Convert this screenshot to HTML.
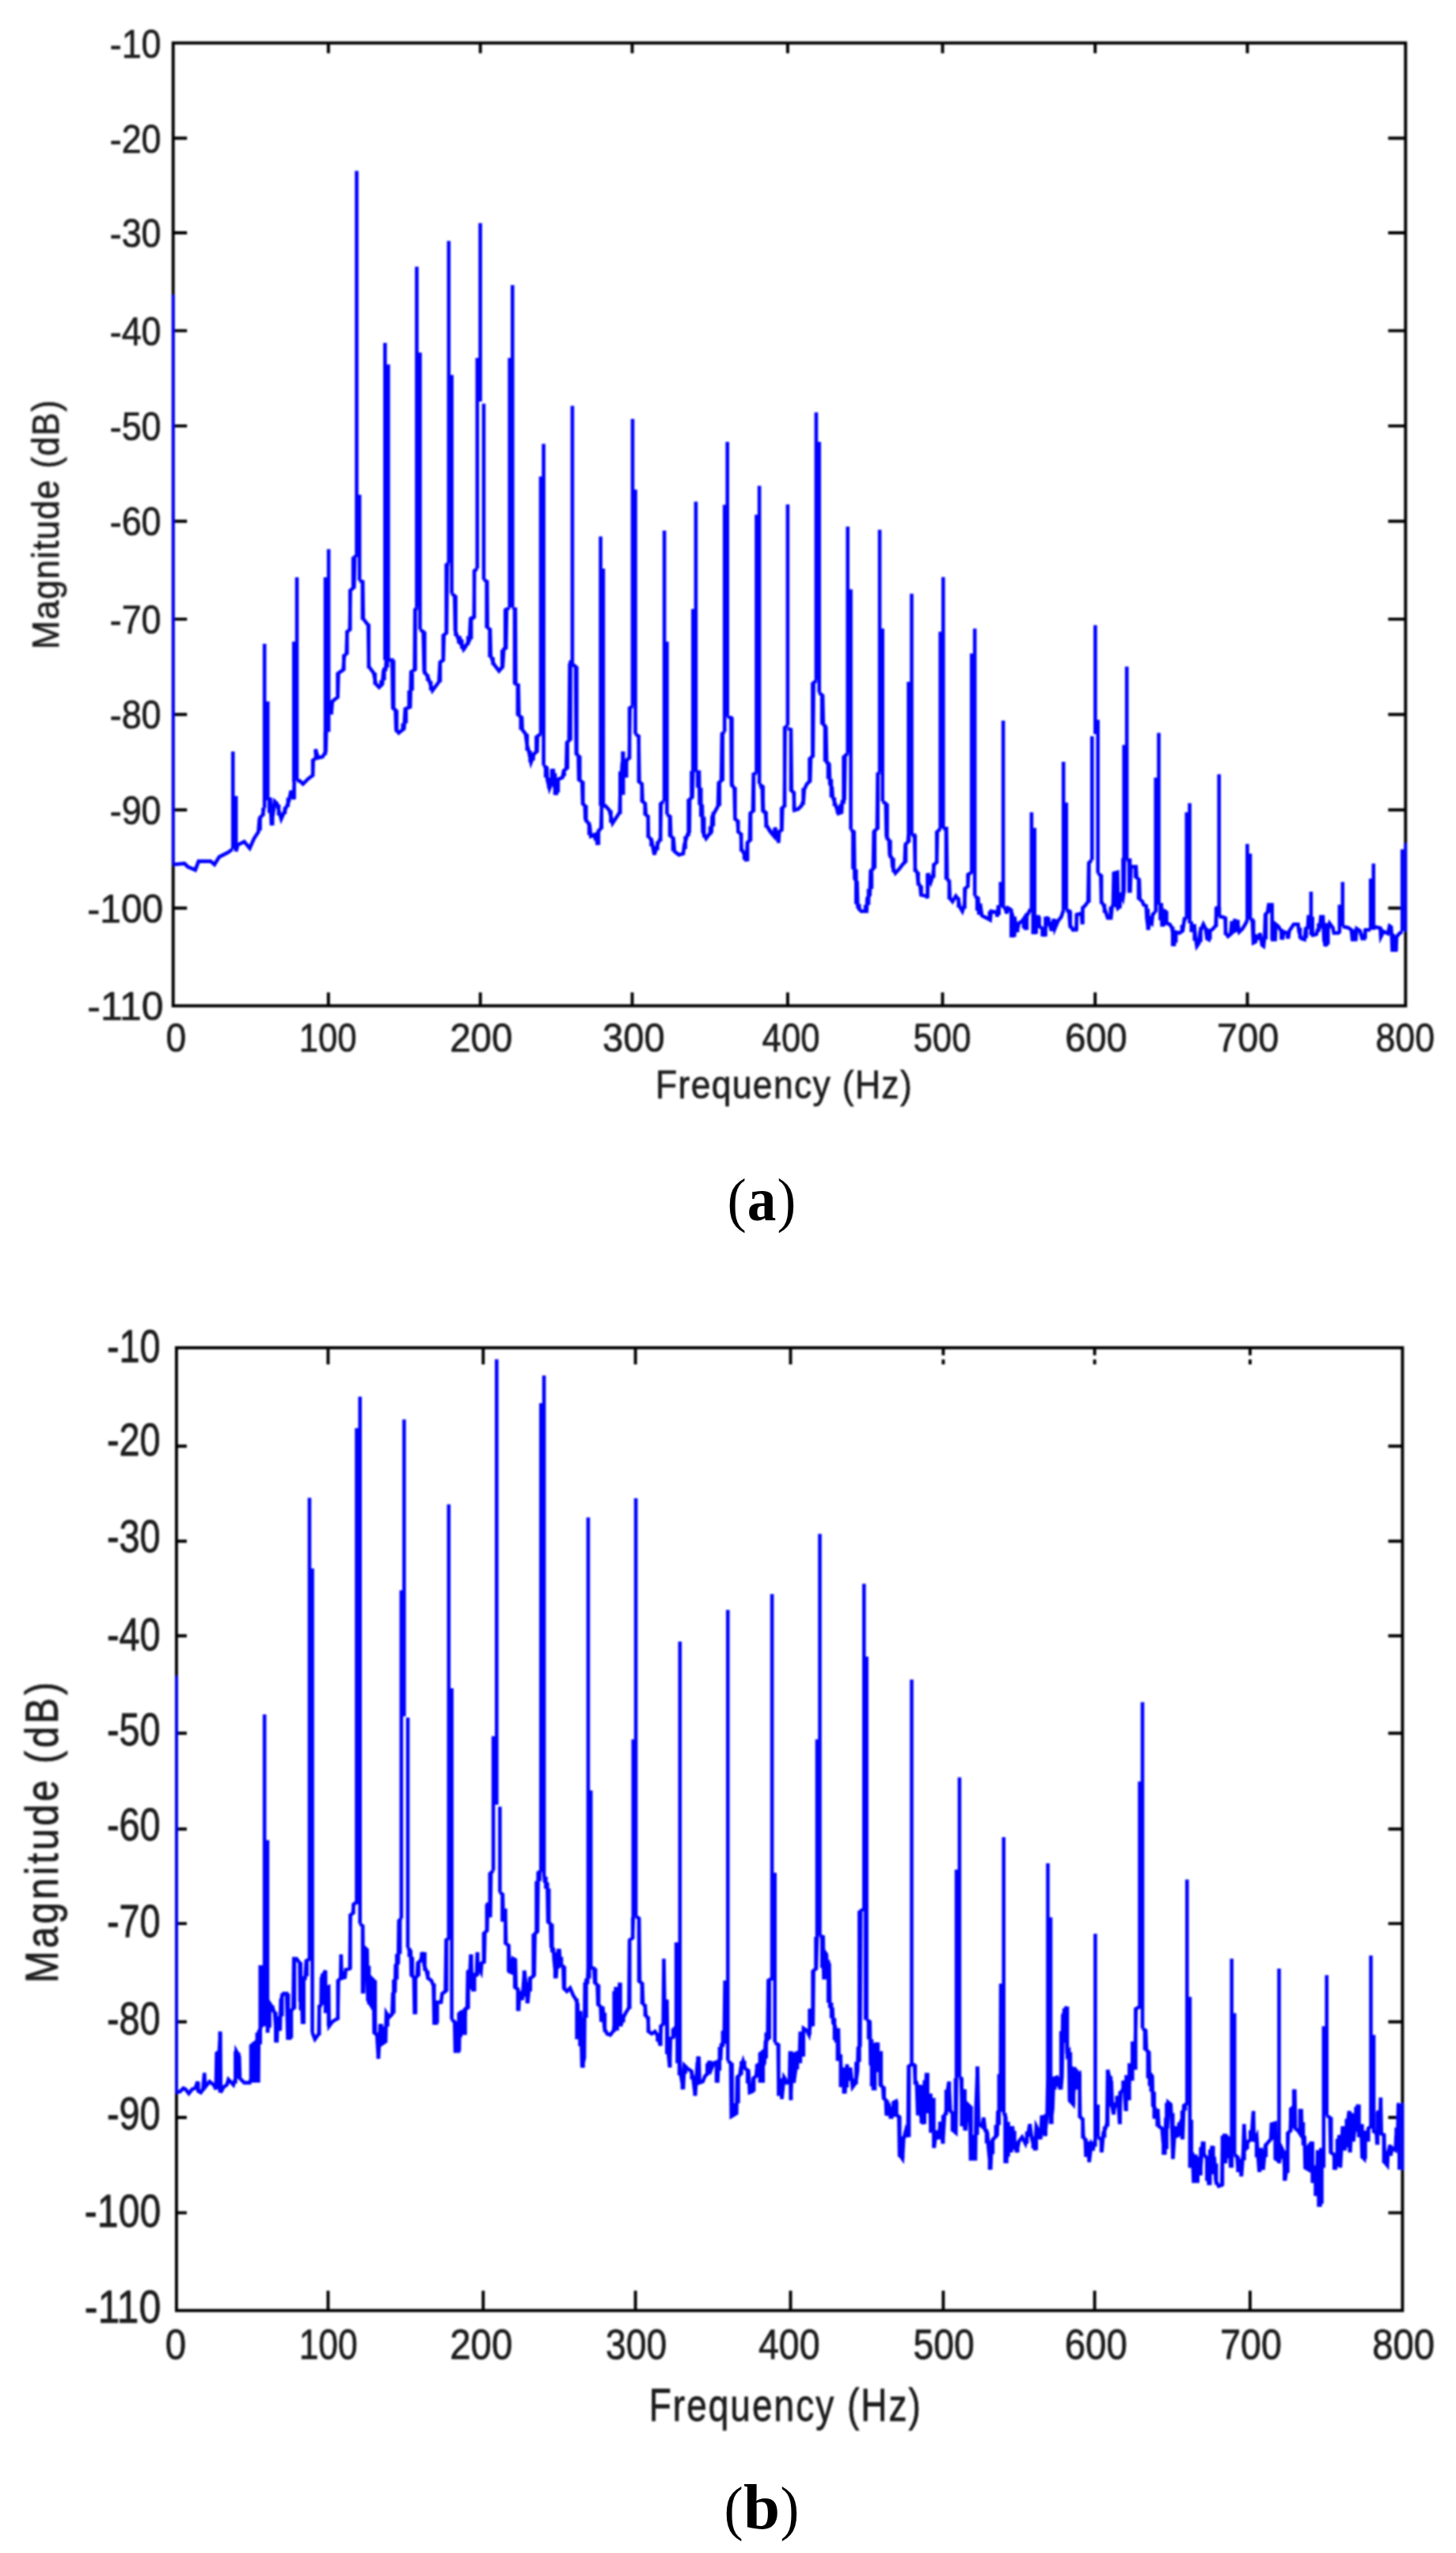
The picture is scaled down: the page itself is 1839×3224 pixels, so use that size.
<!DOCTYPE html>
<html lang="en"><head><meta charset="utf-8"><title>Frequency spectra</title>
<style>html,body{margin:0;padding:0;background:#fff}body{width:1839px;height:3224px;overflow:hidden}svg{display:block}.s{font-family:"Liberation Sans",Arial,Helvetica,sans-serif;fill:#1c1c1c;stroke:#1c1c1c;stroke-width:1.4px}.c{font-family:"Liberation Serif","Times New Roman",serif;fill:#000}.cb{font-weight:bold}.d{fill:none;stroke:#0000ff;stroke-linejoin:miter;stroke-linecap:butt}</style></head><body>
<svg width="1839" height="3224" viewBox="0 0 1839 3224">
<defs><filter id="b" x="-5%" y="-5%" width="110%" height="110%"><feGaussianBlur stdDeviation="1.05"/></filter><filter id="bt" x="-2%" y="-2%" width="104%" height="104%"><feGaussianBlur stdDeviation="0.8"/></filter></defs>
<rect width="1839" height="3224" fill="#fff"/>
<g filter="url(#b)">
<rect x="218.7" y="54.3" width="1556.6" height="1215.9" fill="none" stroke="#000" stroke-width="3.9"/>
<path d="M414.8 1270.2v-17M414.8 54.3v13M606.7 1270.2v-17M606.7 54.3v13M798.5 1270.2v-17M798.5 54.3v13M994.9 1270.2v-17M994.9 54.3v13M1190.5 1270.2v-17M1190.5 54.3v13M1383.2 1270.2v-17M1383.2 54.3v13M1575.5 1270.2v-17M1575.5 54.3v13M218.7 174.5h17.5M1775.3 174.5h-22M218.7 294h17.5M1775.3 294h-22M218.7 417.6h17.5M1775.3 417.6h-22M218.7 537.9h17.5M1775.3 537.9h-22M218.7 658.2h17.5M1775.3 658.2h-22M218.7 781.9h17.5M1775.3 781.9h-22M218.7 902.2h17.5M1775.3 902.2h-22M218.7 1022.8h17.5M1775.3 1022.8h-22M218.7 1146.7h17.5M1775.3 1146.7h-22" fill="none" stroke="#000" stroke-width="3.9"/>
<path class="d" stroke-width="4.6" d="M218.7 1091.8L233 1090.4L237.1 1094.5L246.7 1098.6L250.8 1087.6L265.9 1087.6L270.9 1091.8L276.9 1082.1L287.9 1076.6L293.4 1072.5M298.1 1075.3L300.3 1067L308.5 1062.9L315.4 1071.2L320.9 1058.8L326.4 1050.5L327.7 1034.1L331.9 1028.6L333.2 1020.3M338.2 1009.3L341.5 1009.3L342.9 1042.3L347 1012.1L349.7 1014.8L355.2 1034.1L364.8 1012.1L367.6 998.4L370.9 1009.3L371.7 987.4M375 986L378.6 986L382.7 990.1L389.6 983.2L395.1 979.1L395.6 959.9L399.2 957.1L398.4 946.2L401.9 957.1L407.4 955.8L411.5 948.9L412.1 924.2M418.4 902.2L419.8 885.7L426.6 880.2L427.5 850L433.5 845.9L434.9 828L437.6 825.3L438.5 797.8L441.8 795.1L442.6 745.6L447.3 741.5L448.1 703L450.5 701.6M454.1 733.2L458.2 734.6L458.8 781.3L465.1 789.6L465.9 841.8L472 850L474.7 863.7L478.8 867.9L483 863.7L484.3 847.3L487.1 845.9L487.9 833.5M490.4 833.5L495.3 833.5L496.2 894L499.5 896.7L500.3 921.4L503.6 925.5L510.4 920.1L511.8 895.3L518.1 892.6L519.2 848.6L523.6 845.9L524.2 770.3L526.9 767.6M530.5 795.1L534.6 797.8L535.7 847.3L540.7 855.5L546.2 872L554.4 861L555.8 836.3L559.9 833.5L560.7 801.9L564 799.2L564.8 712.6L566.8 711.3M570.6 749.7L574.2 752.5L575 796.4L580.5 811.5L586.8 818.4L592.9 808.8L594.2 782.7L600 778.6M580 803.3L585.5 819.8L591 811.5L593.7 806L594.3 781.3L598.7 778.6L599.2 720.9L602.8 718.1M611 731.9L615.2 734.6L615.7 792.3L619 795.1L619.8 828L624 839L630.3 847.3L634.9 841.8L636.3 819.8L639.1 818.4L639.9 769L643.7 767.6M647.3 768.1L650.9 769L651.4 863.7L654.7 865.1L655.5 903.6L659.1 906.3L659.7 921.4L663.8 926.9L665.7 940.7L667.9 948.9L670.7 962.6L674.8 951.6L678.4 948.9L678.9 929.7L683 926.9M686.6 966.8L690.7 969.5L691.3 984.6L694 995.6L698.1 984.6L698.7 970.9L699.8 990.1L702.8 1003.8L703.6 984.6L710.5 981.9L711.9 973.6L715.2 970.9L716 937.9L718.7 935.2L719.6 839L722.9 833.5M722.9 839L727 841.8L727.8 951.6L730.5 954.4L731.1 984.6L735.2 987.4L736 1014.8L738.8 1017.6L739.3 1034.1L744.8 1042.3L746.2 1056L753.1 1053.3L754.5 1067L755.8 1050.5L759.1 1045.1L759.9 1017.6M761.9 1017.6L764.6 1017.6L769.6 1023.1L773.7 1039.6L779.2 1031.3L782.7 1025.8L783.3 1003.8L786 962.6L786 1003.8L786.6 948.9L786.6 984.6L790.2 959.9L790.2 981.9L791.5 959.9L794.8 957.1L795.7 894L799 891.2M802.5 926.9L806.6 929.7L807.5 987.4L810.8 990.1L811.6 1012.1L814.9 1014.8L815.7 1028.6L818.5 1031.3L819 1056L823.1 1061.5L826.4 1079.4L831.4 1064.3L834.1 1058.8L834.9 1014.8L838.2 1012.1M842.4 1028.6L846.5 1031.3L847.3 1056L850.6 1058.8L852 1075.3L857.5 1079.4L863 1078L864.3 1067L868.5 1053.3L870.7 1050.5L871.2 1009.3L874.5 1006.6L875.3 973.6M878.9 975L883 975L883.6 1014.8L886.9 1017.6L887.7 1050.5L891.8 1058.8L895.9 1053.3L898.7 1050.5L899.5 1031.3L905.5 1020.3L906.9 1017.6L907.7 988.7L911 986L911.9 926.9L915.2 924.2M918.7 904.9L923.4 906.3L924 990.1L927.5 995.6L928.4 1034.1L931.6 1036.8L932.5 1050.5L935.8 1053.3L936.6 1072.5L939.9 1078L942.6 1087.6L944 1064.3L946.8 1061.5L947.6 1027.2L950.9 1024.5L951.7 977.7L955.5 976.4M959.1 990.1L962.7 992.9L963.5 1023.1L966.8 1025.8L967.9 1042.3L972.9 1050.5L980 1058.8M960 992.9L963.3 995.6L964.1 1024.5L967.4 1027.2L968.2 1042.3L973.7 1050.5L977.9 1056L978.7 1045.1L980.6 1050.5L983.4 1064.3L984.2 1050.5L987.5 1047.8L988.3 1020.3L990.8 1017.6L991.6 918.7L994.9 915.9M994.9 920.1L999 921.4L999.8 998.4L1002.6 1001.1L1003.4 1023.1L1008.1 1021.7L1012.2 1017.6L1014.9 1010.7L1015.8 997L1019.1 990.1L1023.2 986L1024 957.1L1026.8 954.4L1027.6 862.4L1030.9 859.6M1034.7 874.7L1039.1 878.8L1039.9 914.6L1043.2 918.7L1044.1 962.6L1047.4 965.4L1048.2 990.1L1050.9 994.2L1051.8 1006.6L1054.8 1014.8L1058.9 1027.2L1063 1025.8L1063.8 1012.1L1066.6 1009.3L1067.4 954.4L1070.7 951.6M1074.6 1047.8L1078.7 1050.5L1079.5 1109.6L1082.5 1113.7L1083.4 1145.3L1087.7 1150.8L1094.6 1150.8L1095.4 1134.3L1098.7 1130.2L1099.6 1100L1102.9 1097.3L1103.7 1050.5L1107.8 1046.4L1108.6 977.7L1111.1 975M1114.7 1012.1L1118.8 1014.8L1119.6 1056L1122.9 1061.5L1123.7 1079.4L1126.5 1083.5L1127.3 1094.5L1130.9 1102.7L1135.8 1097.3L1139.9 1091.8L1142.7 1089L1143.5 1067L1146.8 1062.9L1147.6 1053.3M1151.5 1054.7L1155.1 1054.7L1155.9 1097.3L1158.6 1102.7L1159.5 1113.7L1162.2 1119.2L1163.3 1130.2L1170.2 1131.6L1171.5 1134.3L1172.1 1102.7L1175.7 1113.7L1178.4 1105.5L1179.8 1091.8L1183.1 1089L1183.9 1050.5L1187.7 1046.4M1191.3 1046.4L1195.4 1046.4L1196.3 1109.6L1199 1113.7L1199.8 1134.3L1203.1 1138.5L1207.3 1131.6L1210.5 1135.7L1212.2 1145.3L1215.5 1150.8L1218.2 1142.6L1219.1 1122L1222.4 1119.2L1223.2 1104.1L1227.3 1101.4M1231.2 1131.6L1235.5 1134.3L1236.4 1154.9L1238 1141.2L1240.2 1156.3L1245.7 1159.1L1250.7 1161.8L1251.8 1150.8L1258.9 1152.2L1259.5 1157.7L1260.8 1145.3L1263.8 1145.3M1267.1 1146.7L1269.9 1146.7L1271.3 1153.6L1273.2 1146.7L1275.9 1148.1L1278.7 1154.9L1279.2 1183.8L1281.4 1157.7L1284.2 1176.9L1286.9 1165.9L1291 1163.2L1293.8 1159.1L1295.2 1174.2L1296.5 1157.7L1300.7 1149.5L1302.9 1149.5M1306.7 1179.7L1308.9 1157.7L1311.6 1157.7L1313 1170.1L1317.1 1172.8L1318.5 1182.4L1320.4 1174.2L1322.1 1157.7L1325.4 1165.9L1328.1 1175.5L1330.9 1160.4L1332.3 1172.8L1336.4 1163.2L1340.5 1157.7L1343.2 1149.5M1346.8 1149.5L1350.1 1150.8L1351.5 1168.7L1355.6 1174.2L1360 1172.8M1346.9 1149.5L1351 1150.8L1351.8 1168.7L1355.1 1174.2L1359.2 1174.2L1360.1 1154.9L1366.1 1153.6L1366.9 1167.3L1367.5 1146.7L1370.2 1144L1374.3 1138.5L1375.2 1090.4L1378.5 1086.3M1386.7 1102.7L1390.3 1105.5L1391.1 1138.5L1393.6 1142.6L1396.3 1150.8L1399.1 1159.1L1403.2 1159.1L1404.6 1145.3L1405.9 1142.6L1406.8 1102.7L1411.4 1101.4L1412.3 1146.7L1414.2 1145.3L1415.5 1127.5L1418.3 1134.3L1419.7 1124.7L1420.2 1083.5M1423.2 1086.3L1427.1 1086.3L1427.4 1127.5L1428.5 1094.5L1434.8 1094.5L1435.6 1108.2L1438.9 1111L1439.7 1135.7L1443 1138.5L1444.4 1142.6L1447.7 1144L1448.5 1159.1L1450.4 1174.2L1452.1 1163.2L1454.8 1165.9L1455.9 1154.9L1458.7 1152.2L1459.8 1152.2M1463.6 1142.6L1466.9 1142.6L1467.7 1170.1L1469.1 1149.5L1471.9 1150.8L1473.2 1165.9L1477.4 1167.3L1480.1 1171.4L1481.5 1179.7L1482.9 1194.8L1484.2 1176.9L1489.7 1178.3L1493.8 1175.5L1496 1160.4L1498.8 1160.4M1502.6 1165.9L1504.8 1165.9L1505.7 1176.9L1508.4 1167.3L1509.8 1182.4L1511.7 1194.8L1514.5 1190.7L1515.8 1176.9L1519.9 1167.3L1522.7 1172.8L1524.6 1185.2L1526.8 1186.5L1528.2 1175.5L1532.3 1172.8L1535.6 1168.7L1536.4 1146.7L1539.7 1145.3M1539.7 1157.7L1543.3 1157.7L1547.4 1159.1L1548.2 1178.3L1551 1182.4L1554.3 1179.7L1555.7 1165.9L1555.7 1179.7L1557.6 1163.2L1557.6 1178.3L1559.8 1160.4L1559.8 1176.9L1562.5 1161.8L1565.3 1176.9L1569.4 1172.8L1573.5 1165.9L1575.4 1161.8M1579 1161.8L1581.8 1161.8L1583.1 1190.7L1585.9 1189.3L1587.3 1182.4L1590.5 1183.8L1591.4 1178.3L1594.1 1193.4L1596 1194.8L1597.4 1181L1598.2 1154.9L1601 1152.2L1602.4 1142.6L1606.5 1142.6L1607.3 1186.5L1610.6 1186.5L1611.4 1167.3L1614.7 1170.1L1618 1175.5L1619.7 1186.5L1621.6 1176.9L1625.7 1178.3L1627.1 1185.2L1628.5 1175.5L1631.2 1171.4L1634 1167.3L1639.5 1167.3L1640.8 1176.9L1643.6 1185.2L1647.7 1186.5L1649.1 1172.8L1651.8 1171.4L1652.6 1157.7L1655.9 1157.7M1655.9 1181L1658.7 1181L1662.8 1179.7L1664.2 1174.2L1666.9 1171.4L1668.3 1157.7L1671 1157.7L1672.4 1187.9L1675.2 1194.8L1676.5 1176.9L1679.3 1165.9L1683.4 1171.4L1684.8 1178.3L1690.3 1178.3L1691.9 1176.9M1695.8 1170.1L1702.6 1171.4L1706.8 1174.2L1708.1 1186.5L1712.3 1186.5L1713.6 1172.8L1717.7 1175.5L1720.5 1185.2L1723.2 1185.2L1724.6 1174.2L1731.2 1174.2M1735.2 1172.1L1737.9 1170.8L1743.4 1172.1L1744.1 1183.1L1747.5 1176.3L1753 1179L1755.1 1169.4L1757.1 1170.8L1757.8 1181.8L1758.5 1199.6L1763.3 1199.6L1764 1183.1L1767.4 1179L1771.1 1176.3M328.5 1030.5V1048.7M332.4 1020.3V1030.5M340.2 1009.3V1026.7M344.2 1018.3V1042.3M352 1016V1029.7M359.9 1019V1028M363.8 1007.6V1019M367.7 998.4V1007.6M371.6 987.4V1009.3M395.1 958.7V980.5M399.1 946.2V958.7M410.8 924.2V953.4M418.7 885V902.2M426.5 849.3V881.9M434.3 826.6V846.6M438.3 796.3V826.6M442.2 744.2V796.3M446.1 703.2V744.2M457.9 733.8V782.7M465.7 787.8V844.1M473.6 849.5V864.5M481.4 859V867.3M485.3 843V859M489.2 833.5V843M497.1 833.5V896.4M501 896.4V924.8M508.8 913.4V922.9M512.8 894.1V913.4M516.7 871.9V894.1M520.6 846.5V871.9M524.5 768V846.5M536.3 797.6V851.5M540.2 851.5V860M544.1 860V871.8M555.9 834.9V861.6M559.8 801V834.9M563.7 712V801M575.5 752V803.2M579.4 803.2V812.5M583.3 807.4V819.2M591.2 803.3V814.6M595.1 779.6V807.2M599 719.5V780.7M614.7 733V793.1M618.6 793.1V830M622.6 830V839.7M634.3 820.5V844.8M638.2 768.8V820.5M650 768.3V864M653.9 864V903.8M657.8 903.8V921.6M665.7 926.8V947.9M669.6 947.9V962.6M673.5 951.1V960.2M677.4 929.3V951.1M689.2 967.2V982M693.1 982V995.6M697.1 970.9V992.7M701 976.6V1003.8M704.9 983.3V1000.8M712.7 971.3V980.2M716.7 935.3V971.3M720.6 834.1V935.3M728.4 841.4V954.2M732.3 954.2V986.7M736.3 986.7V1017M740.2 1017V1038.3M744.1 1038.3V1054.6M751.9 1053.3V1061.6M755.9 1047.2V1067M759.8 1017.6V1047.2M771.5 1023.2V1038.9M783.3 974.2V1028M787.2 948.9V1003.8M791.2 958.6V981.9M795.1 892.8V958.6M806.8 928.5V988.5M810.8 988.5V1013M814.7 1013V1029.5M818.6 1029.5V1058.1M822.5 1058.1V1068.8M826.4 1068.8V1079.4M830.4 1062.4V1073.4M834.3 1013.8V1062.4M846 1029.7V1056.6M850 1056.6V1074.7M865.6 1056.1V1072.2M869.6 1009.1V1056.1M873.5 973.6V1009.1M881.3 975V994.7M885.3 994.7V1031.4M889.2 1031.4V1057.4M897 1043.6V1054.5M900.9 1025.2V1043.6M908.8 986.2V1017.8M912.7 924.6V986.2M924.5 906.1V993.9M928.4 993.9V1035.7M932.3 1035.7V1052M936.2 1052V1075.2M940.1 1075.2V1085.8M944.1 1062.3V1087.6M948 1025.2V1062.3M951.9 977V1025.2M963.7 992.1V1025.7M967.6 1024.8V1045M979.4 1045.1V1058.8M983.3 1049.7V1064.3M987.2 1019.4V1049.7M991.1 917.4V1019.4M999 920.8V999.4M1002.9 999.4V1023.1M1014.6 995.2V1016.4M1022.5 956.7V988.7M1026.4 861.7V956.7M1038.2 876.1V914.8M1042.1 914.8V961.8M1046 961.8V983.7M1049.9 983.7V1007M1053.9 1007V1017.9M1057.8 1017.9V1027.2M1061.7 1015.3V1026.9M1065.6 954.3V1015.3M1077.4 1048.4V1097.7M1081.3 1097.7V1141.8M1085.2 1141.8V1150.1M1093.1 1142.7V1150.8M1097 1122.6V1142.7M1100.9 1096.8V1122.6M1104.8 1047.4V1096.8M1108.7 975.4V1047.4M1120.5 1014.7V1060.8M1124.4 1060.8V1083.4M1128.4 1083.4V1101.4M1144 1063.9V1089.6M1148 1053.3V1063.9M1155.8 1054.7V1101M1159.7 1101V1118.2M1163.6 1118.2V1130.7M1171.5 1102.7V1134.3M1179.3 1090.5V1108.6M1183.2 1049.2V1090.5M1195 1046.4V1110.7M1198.9 1110.7V1135.7M1210.7 1133.4V1146.1M1218.5 1120.8V1147.6M1222.5 1103.3V1120.8M1234.2 1132.3V1150M1238.1 1141.2V1155.5M1249.9 1150.8V1161.8M1261.7 1145.3V1155.4M1277.3 1147.8V1183.8M1281.3 1157.7V1182.9M1285.2 1165.8V1176.9M1293 1159.1V1172.2M1296.9 1152.9V1174.2M1304.8 1149.5V1179.7M1308.7 1157.7V1179.2M1312.6 1157.7V1171.1M1316.6 1171.1V1182.4M1320.5 1157.7V1182.4M1324.4 1158.6V1169.3M1328.3 1163.8V1175.5M1332.2 1160.4V1172.8M1351.8 1150.5V1172M1359.7 1154.6V1174.2M1367.5 1144.7V1167.3M1375.4 1087.7V1139.7M1391.1 1104.6V1141.6M1395 1141.6V1152.7M1402.8 1144.9V1159.1M1406.7 1102.2V1144.9M1410.7 1101.4V1146.7M1414.6 1127.5V1146.4M1418.5 1083.5V1134.3M1426.3 1086.3V1127.5M1434.2 1094.5V1108.7M1438.1 1108.7V1136M1449.9 1147.8V1174.2M1453.8 1156.8V1165.9M1465.5 1142.6V1162.1M1469.5 1149.5V1170.1M1473.4 1150.6V1166.6M1481.2 1170.2V1194.8M1485.2 1176.9V1190.4M1493 1167.9V1177.4M1504.8 1165.9V1176.9M1508.7 1167.3V1187.9M1516.5 1170.7V1189.6M1524.4 1172.2V1186.2M1528.3 1174.2V1186.5M1536.1 1146V1170.5M1540 1145.3V1157.7M1547.9 1158.6V1180.7M1555.7 1163.2V1180.1M1559.7 1160.4V1177.4M1563.6 1161.8V1176.9M1583.2 1161.8V1190.7M1591 1178.3V1187.1M1594.9 1186.2V1194.8M1598.9 1152.4V1186.2M1602.8 1142.6V1152.4M1606.7 1142.6V1186.5M1610.6 1167.3V1186.5M1618.5 1173V1186.5M1626.3 1176.9V1185.2M1642 1171.4V1185.3M1649.8 1171.4V1184.8M1653.8 1157.7V1171.4M1657.7 1157.7V1181M1665.5 1165.9V1176.7M1669.4 1157.7V1165.9M1673.4 1165.4V1194.8M1677.3 1166.1V1192.8M1708.6 1174.1V1186.5M1712.6 1172.8V1186.5M1724.3 1174.2V1185.2M1743.9 1171.8V1183.1M1755.7 1169.4V1179.2M1759.6 1179.2V1199.6M1763.5 1181.3V1199.6M294.2 948.9V1072.5M298.1 1005.2V1075.3M334.1 812.9V1020.3M338.2 885.7V1010.7M375 729.1V986M371.2 810.2V987.4M415.1 693.4V924.2M411 729.1V924.2M418.4 885.7V902.2M450.5 215.8V703M454.1 624.7V733.2M486.3 432.9V833.5M490.4 460.3V833.5M526.4 336.7V767.6M530.5 445.2V795.1M566.8 304.3V711.3M570.6 473.5V749.7M606.6 281.8V507M602.8 452.1V718.1M611 509.8V731.9M647.3 360.1V767.6M643.7 452.1V767.6M686.6 560.6V966.8M683 601.8V926.9M722.9 512.5V839M758.6 677.4V1017.6M761.9 718.1V1017.6M799 529V891.2M802.5 618.3V926.9M839.1 669.9V1012.1M842.4 810.2V1028.6M878.9 633.4V975M875.3 769V973.6M918.7 557.9V904.9M915.2 637.5V924.2M959.1 613.6V990.1M955.5 649.9V976.4M994.9 637V915.9M1030.9 520.8V859.6M1034.7 557.9V874.7M1070.7 665V951.6M1074.6 744.2V1047.8M1111.1 669.1V975M1114.7 793.7V1012.1M1151.5 749.7V1054.7M1147.6 861V1053.3M1191.3 728.7V1046.4M1187.7 797.8V1046.4M1231.2 793.7V1131.6M1227.3 825.3V1102.7M1267.1 909.9V1146.7M1263.8 1113.7V1145.3M1302.9 1025.8V1149.5M1306.7 1045.6V1179.7M1343.2 962.1V1149.5M1346.8 1013.5V1149.5M1383.4 789.6V926.9M1386.7 909.1V1102.7M1379.3 929.7V1086.3M1423.2 841.8V1086.3M1419.7 940.7V1083.5M1463.6 925.5V1142.6M1459.8 981.9V1152.2M1502.6 1014.3V1165.9M1498.8 1025.8V1160.4M1539.7 977.7V1157.7M1575.4 1065.7V1161.8M1579 1078V1161.8M1655.9 1126.1V1181M1695.8 1113.7V1170.1M1691.9 1142.6V1178.3M1734.8 1090.4V1174.2M1731.2 1109.6V1174.2M1771.2 1072.6V1176"/>
<path class="d" stroke-width="3.6" d="M218.7 372.4V1090M1775.3 1065V1176"/>
</g>
<g filter="url(#b)">
<rect x="222.9" y="1702" width="1548.5" height="1215.8" fill="none" stroke="#000" stroke-width="3.9"/>
<path d="M414.4 2917.8v-25M414.4 1702v21M610.3 2917.8v-25M610.3 1702v21M802.6 2917.8v-25M802.6 1702v21M998.5 2917.8v-25M998.5 1702v21M1191.4 2917.8v-25M1191.4 1702v9.5M1191.4 1716.7v6.3M1382.6 2917.8v-25M1382.6 1702v9.5M1382.6 1716.7v6.3M1578.9 2917.8v-25M1578.9 1702v9.5M1578.9 1716.7v6.3M222.9 1826.2h13M1771.4 1826.2h-18M222.9 1946.3h13M1771.4 1946.3h-18M222.9 2065.8h13M1771.4 2065.8h-18M222.9 2188.8h13M1771.4 2188.8h-18M222.9 2309.7h13M1771.4 2309.7h-18M222.9 2429.1h13M1771.4 2429.1h-18M222.9 2553.3h13M1771.4 2553.3h-18M222.9 2674h13M1771.4 2674h-18M222.9 2794.4h13M1771.4 2794.4h-18" fill="none" stroke="#000" stroke-width="3.9"/>
<path class="d" stroke-width="4.6" d="M222.8 2642.5L227.5 2641.1L231.6 2637L234.3 2638.4L238.5 2643.8L242.6 2638.4L246.7 2637L249.5 2628.7L250.8 2641.1L253.6 2642.5L256.3 2638.4L258.2 2617.7L259.1 2635.6L264.6 2628.7L270.1 2632.9L272.8 2638.4L273.6 2593L276.9 2590.3L278.3 2565.5L278.8 2642.5L282.4 2635.6L286.5 2632.9L288.5 2626L294.8 2632.9L297.5 2624.6L298.4 2590.3L302.2 2597.1L303 2624.6L308.5 2630.1L315.4 2630.1L318.1 2621.9L318.7 2582L322.3 2579.3L322.8 2630.1L322.8 2591.6L325.8 2566.9L326.4 2630.1L326.9 2565.5L329.1 2561.4L329.9 2481.8M337.9 2566.9L341.5 2531.2L344.2 2535.3L347 2542.2L349.7 2579.3L350.5 2555.9L353.8 2564.2L354.7 2525.7L358 2517.5L362.1 2517.5L363.5 2573.8L366.2 2573.8L367 2539.5L370.3 2536.7L371.2 2473.5L374.5 2473.5L378.6 2479L379.1 2525.7L381.3 2525.7L382.1 2555.9L383.5 2498.2L385.4 2498.2L386.8 2476.3L389.6 2474.9M394.5 2566.9L397.8 2575.2L402.7 2568.3L403.3 2535.3L405.5 2531.2L406 2498.2L411 2488.6L411.5 2542.2L412.1 2510.6L415.1 2509.2L415.7 2558.7L419.8 2553.2L423.9 2550.4L426.6 2549.1L427.5 2501L430.2 2498.2L430.8 2468L431.6 2498.2L435.7 2496.9L436.8 2487.3L441.8 2485.9L442.6 2418.6L445.9 2415.8L446.7 2404.8L450.5 2402.1M454.7 2429.6L458.2 2432.3L459.1 2517.5L461 2459.8L463.7 2462.5L464.6 2525.7L467.9 2531.2L469.2 2498.2L472 2501L472.5 2566.9L476.1 2569.7L478 2599.9L480.2 2555.9L483 2580.7L487.1 2577.9L487.9 2542.2L491.2 2547.7L495.3 2543.6L496.2 2517.5L498.9 2514.7L499.7 2481.8L503 2479L503.8 2425.4L506.9 2422.7M515.1 2459.8L518.7 2463.9L519.5 2494.1L522.8 2496.9L523.6 2543.6L524.7 2498.2L526.9 2495.5L527.7 2479L531 2476.3L534.6 2465.3L535.7 2481.8L538.5 2488.6L540.7 2498.2L544.8 2501L547.5 2507.9L548.4 2554.6L551.1 2554.6L551.9 2528.5L557.1 2528.5L558.5 2517.5L562.6 2514.7L563.5 2450.2L566.8 2447.4M570.6 2550.4L574.2 2553.2L575 2590.3L579.1 2590.3L579.9 2564.2L581.9 2566.9L582.7 2540.8L586 2539.5L586.8 2569.7L587.9 2536.7L590.1 2535.3L590.9 2490L594.2 2487.3L595.1 2468L596.2 2510.6L600 2491.4M580 2590.3L580.8 2542.2L585.5 2539.5L586.3 2569.7L586.9 2538.1L591 2535.3L591.8 2490L593.7 2488.6L594.6 2468L595.4 2503.7L597.9 2514.7L598.7 2495.5L602 2494.1L602.8 2465.3L603.6 2481.8L607.5 2490L608.3 2479L611.6 2477.6L612.4 2440.5L615.2 2437.8L616 2404.8L618.5 2404.8L619.3 2421.3L620.1 2365L623.1 2362.3M631.4 2389.7L634.9 2392.5L635.8 2426.8L638.2 2410.3L639.1 2454.3L642.6 2457L643.5 2490L647.3 2491.4L648.1 2473.5L650.9 2474.9L651.7 2510.6L654.2 2512L655 2539.5L656.4 2514.7L659.7 2525.7L662.4 2488.6L666.5 2529.8L669.3 2498.2L672 2496.9L674.8 2494.1L675.6 2441.9L678.9 2439.2L679.7 2365L683.3 2362.3M687.1 2366.4L688 2376L691.3 2378.7L692.1 2426.8L695.4 2429.6L696.2 2458.4L699 2461.2L699.8 2474.9L702.3 2498.2L703.6 2479L706.4 2461.2L707.7 2481.8L711.3 2483.1L712.1 2510.6L716 2514.7L720.1 2510.6L724.2 2520.2L727 2524.3L729.7 2531.2L730.5 2575.2L733.3 2539.5L735.2 2610.9L738 2598.5L738.8 2505.1L742.1 2503.7L742.9 2485.9M746.2 2484.5L750.3 2485.9L751.2 2503.7L754.5 2506.5L755.3 2531.2L758.6 2534L759.4 2553.2L761.3 2534L763.5 2561.4L766.8 2568.3L770.9 2569.7L775.1 2564.2L776.4 2549.1L777.8 2509.2L779.2 2564.2L782.7 2503.7L783.8 2558.7L787.4 2547.7L790.2 2542.2L794.3 2535.3L795.1 2450.2L799 2447.4L799.8 2421.3M803.1 2419.9L807.2 2422.7L808 2502.4L811.3 2505.1L812.1 2529.8L814.9 2534L815.7 2544.9L818.5 2549.1L819.3 2565.5L823.1 2568.3L827.3 2565.5L830 2569.7L834.1 2583.4L834.9 2558.7L837.7 2555.9L838.5 2473.5L839.3 2525.7L842.4 2527.1L843.2 2583.4L845.9 2610.9L847 2573.8L850.6 2572.4L852 2561.4L854.2 2560.1L855.5 2452.9M858.8 2605.4L859.7 2619.1L863 2638.4L864.3 2608.1L868.5 2612.3L872.6 2615L875.3 2623.2L878.1 2646.6L880.8 2605.4L882.7 2597.1L883.6 2630.1L887.7 2628.7L890.4 2621.9L894.6 2617.7L895.4 2602.6L898.1 2613.6L901.4 2605.4L905.5 2604L906.4 2630.1L907.5 2602.6L910.2 2599.9L911 2582L914.6 2579.3L915.7 2501M919.3 2602.6L922.9 2605.4L923.7 2672.7L930.3 2668.6L931.1 2623.2L934.4 2620.5L935.8 2610.9L938.5 2602.6L941.3 2612.3L945.4 2615L946.8 2642.5L950.3 2641.1L951.4 2624.6L955 2621.9L956.4 2608.1L960.5 2605.4L961.9 2591.6L962.7 2630.1L964.1 2590.3L967.4 2587.5L968.2 2576.5L970.9 2573.8L971.8 2501M960 2630.1L961.4 2605.4L962.2 2590.3L964.1 2608.1L965.5 2605.4L966.9 2577.9L969.6 2575.2L970.4 2501L975.1 2498.2M978.7 2579.3L982.8 2582L983.6 2646.6L986.1 2624.6L987.5 2650.7L990.2 2623.2L994.3 2630.1L997.1 2628.7L997.9 2590.3L998.7 2652.1L1001.2 2591.6L1002.6 2630.1L1005.3 2610.9L1008.1 2590.3L1009.5 2605.4L1010.8 2565.5L1013.6 2597.1L1014.9 2561.4L1019.1 2564.2L1021.8 2569.7L1023.2 2558.7L1024 2536.7L1026.8 2558.7L1027.6 2488.6L1030.9 2485.9L1032 2446M1035.5 2444.7L1039.7 2446L1040.5 2499.6L1041.9 2465.3L1043.8 2468L1045.2 2492.7L1047.4 2479L1048.2 2534L1051.5 2536.7L1052.3 2554.6L1054.8 2558.7L1056.2 2579.3L1058.9 2561.4L1059.7 2602.6L1061.6 2594.4L1063 2635.6L1065.8 2610.9L1067.1 2643.8L1069.9 2606.8L1071.3 2627.4L1074 2610.9L1076.8 2635.6L1080.9 2630.1L1083.1 2615L1083.9 2586.2L1086.4 2583.4L1087.2 2413.1L1091.3 2410.3M1094.6 2550.4L1098.7 2553.2L1099.6 2606.8L1102.3 2609.5L1103.1 2639.7L1104.2 2608.1L1107 2579.3L1108.4 2616.4L1111.1 2590.3L1111.9 2632.9L1115.2 2635.6L1116 2649.3L1118.8 2652.1L1119.6 2671.3L1123.5 2661.7L1126.2 2675.4L1129 2654.8L1131.7 2653.5L1132.5 2671.3L1135.3 2672.7L1136.1 2720.8L1139.9 2726.3L1141.3 2701.5L1144.1 2690.5L1146.8 2698.8L1147.6 2609.5L1151.5 2606.8M1151.5 2605.4L1155.1 2608.1L1155.9 2627.4L1157.8 2630.1L1159.2 2671.3L1161.9 2632.9L1163.3 2672.7L1166 2682.3L1168.2 2652.1L1170.2 2617.7L1171.5 2668.6L1174.3 2643.8L1175.7 2693.3L1178.4 2649.3L1179.8 2712.5L1182.5 2690.5L1185.3 2701.5L1188 2679.6L1190.8 2707L1193 2671.3L1194.9 2667.2L1195.7 2649.3L1198.5 2628.7L1200.4 2665.8L1203.1 2668.6L1204 2690.5L1207.3 2693.3L1208.1 2624.6M1211.9 2623.2L1214.1 2624.6L1215.5 2685.1L1217.7 2638.4L1219.6 2690.5L1222.4 2657.6L1225.1 2660.3L1225.9 2726.3L1232 2726.3L1232.8 2661.7L1234.7 2609.5L1236.1 2682.3L1240.2 2685.1L1242.4 2674.1L1244.3 2690.5L1247.1 2693.3L1248.5 2712.5L1251.2 2740L1252.6 2704.3L1256.7 2698.8L1259.5 2696L1260.3 2667.2L1263.6 2664.5L1264.1 2505.1M1267.7 2668.6L1270.4 2674.1L1271.3 2731.8L1273.2 2679.6L1275.9 2718L1278.7 2685.1L1281.4 2707L1284.2 2718L1286.9 2704.3L1291 2698.8L1295.2 2707L1299.3 2690.5L1300.7 2682.3L1303.4 2701.5L1307.5 2715.3L1308.9 2685.1L1311.6 2690.5L1314.4 2701.5L1315.8 2671.3L1319.9 2697.4L1322.6 2668.6L1323.5 2624.6M1327 2682.3L1329.5 2663.1L1330.9 2624.6L1335 2623.2L1339.1 2638.4L1341.3 2621.9L1342.4 2544.9L1344.6 2543.6L1347.4 2534L1348.2 2594.4L1350.1 2591.6L1350.9 2652.1L1355.6 2657.6L1357 2610.9L1360 2619.1M1340 2638.5L1341.4 2622L1342.7 2545.1L1346.9 2534.1L1347.7 2591.8L1351 2594.5L1351.8 2654.9L1353.7 2609.6L1355.1 2657.7L1357.9 2616.5L1359.2 2638.5L1360.6 2619.2L1363.4 2617.9L1364.2 2672.8L1367.5 2676.9L1368.3 2697.5L1370.8 2703L1371.6 2723.6L1374.3 2704.4L1375.7 2730.5L1378.5 2707.1L1381.2 2711.3L1383.4 2701.6M1386.7 2698.9L1390.8 2701.6L1391.6 2718.1L1393.6 2693.4L1396.3 2687.9L1398.2 2681L1399.1 2613.7L1401 2622L1401.8 2656.3L1403.7 2627.5L1404.8 2660.4L1406.5 2670.1L1408.1 2657.7L1410.9 2659.1L1412 2646.7L1414.2 2682.4L1415.5 2642.6L1418.3 2638.5L1419.7 2627.5L1421.9 2665.9L1423.2 2620.6L1425.7 2652.2L1427.4 2605.5L1430.1 2627.5L1430.9 2578L1433.4 2613.7L1434.8 2536.8L1439.5 2534.1M1443 2561.5L1447.1 2564.3L1448 2589L1451.3 2591.8L1452.1 2634.3L1453.2 2619.2L1455.4 2622L1456.2 2659.1L1458.7 2661.8L1459.5 2675.5L1462.3 2663.2L1463.6 2685.2L1467.7 2687.9L1469.1 2704.4L1471.3 2720.9L1472.4 2679.7L1474.6 2682.4L1475.4 2654.9L1478.7 2657.7L1480.1 2682.4L1481.5 2726.4L1484.2 2685.2L1487 2698.9L1489.7 2683.8L1492.5 2676.9L1493.8 2701.6L1495.2 2659.1L1499.3 2656.3M1502.9 2676.9L1503.7 2737.4L1506.2 2718.1L1507.6 2756.6L1510.3 2720.9L1511.7 2756.6L1514.5 2723.6L1515.8 2747L1518 2718.1L1519.1 2704.4L1520.8 2720.9L1524.1 2725L1526.8 2759.3L1529 2723.6L1530.9 2709.9L1532.3 2745.6L1533.7 2723.6L1535.6 2753.8L1539.2 2760.7L1543.3 2759.3L1544.1 2704.4L1546.6 2694.8L1547.7 2731.9L1550.2 2698.9L1552.9 2701.6L1554.3 2737.4L1555.7 2704.4M1559.2 2720.9L1562.5 2723.6L1563.9 2742.9L1566.6 2726.4L1568 2748.4L1570.2 2718.1L1571.3 2682.4L1573 2715.4L1576.3 2704.4L1580.4 2701.6L1583.1 2665.9L1584 2704.4L1587.3 2697.5L1588.6 2718.1L1590.5 2742.9L1592.7 2712.6L1595.5 2740.1L1598.2 2709.9L1602.4 2704.4L1605.1 2701.6L1605.9 2682.4L1610.6 2681L1611.4 2726.4L1615.5 2729.1M1615.5 2731.9L1618.8 2712.6L1621.6 2718.1L1623 2753.8L1625.7 2734.6L1627.1 2693.4L1629.8 2690.7L1630.7 2663.2L1634 2660.4L1635.3 2638.5L1636.2 2687.9L1639.5 2690.7L1642.2 2694.8L1643.6 2663.2L1644.4 2696.2L1647.7 2698.9L1648.5 2737.4L1653.2 2740.1L1655.9 2704.4L1657.3 2734.6L1658.7 2756.6L1661.4 2734.6L1662.8 2773.1L1664.2 2715.4L1666.4 2778.6L1667.5 2786.8L1668.3 2712.6L1671 2737.4L1671.9 2737.4M1675.7 2671.4L1679.8 2674.2L1680.7 2718.1L1684.8 2720.9L1686.7 2740.1L1688.9 2718.1L1691.6 2696.2L1693 2737.4L1695.8 2685.2L1698.5 2715.4L1701.3 2687.9L1704 2665.9L1705.4 2718.1L1707.6 2668.7L1709.5 2704.4L1712.3 2674.2L1715 2657.7L1716.4 2698.9L1719.1 2682.4L1720.5 2723.6L1723.2 2726.4L1724.6 2690.7L1727.4 2704.4L1728.2 2687.9L1731.5 2685.2M1735.2 2690.6L1738.6 2694.7L1739.3 2708.5L1740.6 2667.3L1743.4 2667.3L1743.8 2648.7L1744.8 2694.7L1748.2 2696.1L1748.9 2730.4L1752.3 2734.6L1753 2719.5L1755.8 2708.5L1756.4 2722.2L1758.5 2712.6L1762.6 2715.3L1763.3 2697.5L1765.4 2694.7L1766.1 2657.6L1767.4 2656.3M250.3 2628.7V2641.8M258.2 2617.7V2638.5M273.9 2591.2V2638.4M277.8 2565.5V2642.5M297.4 2590.3V2630.9M301.3 2592V2624.9M317 2581.8V2630.1M320.9 2579.3V2630.1M324.8 2566.9V2630.1M328.7 2481.8V2581.6M340.5 2531.2V2560.6M344.4 2532.7V2540.7M348.3 2540.7V2579.3M352.3 2546.3V2564.2M356.2 2517.5V2546.3M364 2517.5V2573.8M367.9 2537.1V2573.8M371.9 2473.5V2537.1M379.7 2477.9V2538.6M383.6 2495.8V2555.9M387.6 2474.9V2495.8M403.2 2531.8V2570.3M407.2 2492.3V2531.8M411.1 2488.6V2542.2M415 2509.2V2558.7M426.8 2499.7V2550M430.7 2468V2499.7M434.6 2489.5V2497.9M442.4 2417.1V2486.2M446.4 2403.7V2417.1M458.1 2430.7V2517.5M462 2459.8V2487.2M466 2482.4V2531.2M469.9 2498.2V2529.8M473.8 2500.8V2569.4M477.7 2566.8V2599.9M481.6 2555.9V2580.7M485.6 2559.3V2580.2M489.5 2542.2V2559.3M497.3 2499.7V2542.7M501.2 2467.6V2499.7M505.2 2422.7V2467.6M516.9 2459.8V2471.2M520.8 2471.2V2496.9M524.8 2495.7V2543.6M528.7 2476.6V2495.7M532.6 2465.4V2476.6M536.5 2465.3V2488.7M540.4 2488.7V2499.4M548.3 2504.8V2554.6M552.2 2528.5V2554.6M564 2448.1V2515.1M575.7 2552.9V2590.3M579.6 2541.7V2590.3M583.6 2539.5V2566.9M587.5 2535.7V2569.7M591.4 2488V2536.4M595.3 2468V2512.2M599.2 2491.4V2514.7M603.2 2465.3V2494.4M607.1 2478.7V2490M611 2440V2478.7M614.9 2404.8V2440M618.8 2364.4V2421.3M634.5 2390.6V2426.8M638.4 2410.3V2455.3M642.4 2455.3V2490.3M646.3 2473.5V2491.4M650.2 2473.6V2510.9M654.1 2510.9V2539.5M658 2514.7V2525.7M662 2488.6V2521.2M665.9 2503.7V2529.8M669.8 2497V2514.8M673.7 2441.9V2497M677.6 2375.4V2441.9M681.6 2362.3V2375.4M689.4 2370V2384.9M693.3 2384.9V2429.5M697.3 2429.5V2465.4M701.2 2465.4V2498.2M705.1 2461.2V2485.9M709 2471.3V2483M712.9 2483V2513.5M728.6 2523.9V2575.2M732.5 2539.5V2583.9M736.5 2547.9V2610.9M740.4 2498.4V2547.9M744.3 2484.5V2498.4M752.1 2485.8V2506.2M756.1 2506.2V2533.5M760 2533.5V2553.2M763.9 2541.7V2566.3M775.7 2514.6V2566M779.6 2509.2V2564.2M783.5 2503.7V2558.7M787.4 2543.8V2553.7M795.3 2448.7V2537M799.2 2421.3V2448.7M807 2421.3V2503.2M810.9 2503.2V2531M814.9 2531V2546.6M818.8 2546.6V2566.6M830.5 2567.5V2578M834.5 2557.2V2583.4M838.4 2473.5V2557.2M842.3 2526.2V2594.1M846.2 2573.3V2610.9M850.1 2561.4V2573.3M854.1 2452.9V2561.4M858 2605.4V2620.7M861.9 2618.7V2638.4M865.8 2608.1V2618.7M873.7 2614.4V2625.7M877.6 2624.6V2646.6M881.5 2597.1V2625.8M893.3 2605.6V2621M897.2 2602.6V2613.6M905 2604V2630.1M908.9 2585.1V2614.8M912.9 2564.4V2585.1M916.8 2501V2564.4M924.6 2605.2V2672.7M928.5 2655.9V2670.9M932.5 2620.3V2655.9M936.4 2603.1V2620.3M940.3 2602.6V2612.9M944.2 2612.9V2631M948.1 2631V2642.5M952.1 2622.6V2641.2M956 2607.1V2622.6M959.9 2591.7V2630.1M963.8 2588.8V2630.1M967.7 2566.8V2599.5M971.7 2499.1V2575M983.4 2581.1V2646.6M987.3 2624.6V2650.7M991.3 2623.2V2632.3M999.1 2590.3V2652.1M1003 2591.6V2630.1M1007 2590.3V2613.3M1010.9 2565.5V2605.4M1014.8 2561.4V2597.1M1022.6 2536.7V2569.7M1026.6 2487.9V2558.7M1030.5 2446V2487.9M1038.3 2444.9V2485.2M1042.2 2465.3V2499.6M1046.2 2475.3V2529.1M1050.1 2529.1V2548.6M1054 2548.6V2576.3M1057.9 2561.4V2602.6M1061.8 2594.4V2635.6M1065.8 2610.9V2643.8M1069.7 2606.8V2636.1M1073.6 2610.9V2625.1M1077.5 2624.8V2635.6M1081.4 2603.8V2632M1085.4 2413V2603.8M1093.2 2410.3V2550.8M1097.1 2550.8V2575.3M1101 2575.3V2634.8M1105 2579.9V2639.7M1108.9 2579.3V2616.4M1112.8 2590.3V2635.2M1116.7 2635.2V2652M1120.6 2652V2671.3M1124.6 2661.7V2675.4M1128.5 2654.1V2673.1M1132.4 2653.5V2672.2M1136.3 2672.2V2723.9M1140.2 2698V2726.3M1148.1 2607.8V2698.8M1155.9 2607.3V2632.5M1159.8 2632.5V2671.3M1163.8 2632.9V2681.2M1167.7 2627.1V2682.3M1171.6 2617.7V2668.6M1175.5 2643.8V2693.3M1179.4 2649.3V2712.5M1183.4 2690.5V2701.5M1187.3 2679.6V2701.2M1191.2 2670.9V2707M1195.1 2639.1V2670.9M1199 2628.7V2666.4M1203 2666.4V2691.4M1206.9 2624.6V2693.3M1214.7 2623.8V2685.1M1218.6 2638.4V2690.5M1222.6 2657.6V2678.7M1226.5 2659.7V2726.3M1230.4 2695.9V2726.3M1234.3 2609.5V2695.9M1242.2 2674.1V2688.7M1246.1 2688.7V2706.7M1250 2706.7V2740M1253.9 2699.9V2720.3M1257.8 2683.6V2699.9M1261.8 2619.3V2683.6M1265.7 2505.1V2619.3M1269.6 2668.6V2731.8M1273.5 2679.6V2723.5M1277.4 2685.1V2718M1281.4 2690.9V2714.6M1285.3 2703.9V2718M1297 2691.7V2707M1301 2682.3V2698.2M1304.9 2698.2V2713M1308.8 2685.1V2715.3M1312.7 2688.8V2701.5M1316.7 2671.3V2695.1M1320.6 2669.7V2697.4M1324.5 2624.6V2669.7M1328.4 2638.8V2682.3M1332.3 2623.5V2638.8M1336.3 2623.2V2635M1340.2 2564.9V2638.5M1344.1 2536.2V2579.5M1348 2534V2594.4M1351.9 2591.6V2655.6M1355.9 2610.9V2657.7M1359.8 2613.2V2638.5M1363.7 2617.9V2674.6M1367.6 2674.6V2700.4M1371.5 2700.4V2723.6M1375.5 2704.4V2730.5M1379.4 2707.1V2716M1383.3 2701.6V2710.7M1391.1 2699.5V2718.1M1395.1 2685.4V2699.5M1399 2613.7V2685.4M1402.9 2621.8V2660.6M1406.8 2657.7V2670.1M1410.7 2646.7V2659.1M1414.7 2641V2682.4M1418.6 2627.5V2642.6M1422.5 2620.6V2665.9M1426.4 2605.5V2652.2M1430.3 2578V2627.5M1434.3 2536V2613.7M1446 2562.2V2589M1449.9 2589V2624.6M1453.9 2619.2V2641.6M1457.8 2641.6V2675.5M1461.7 2663.2V2685.2M1469.5 2687.8V2720.9M1473.5 2655.6V2714.1M1477.4 2654.9V2668.6M1481.3 2668.6V2726.4M1485.2 2685.2V2699.7M1489.1 2680.3V2697.8M1493.1 2665.2V2701.6M1497 2656.6V2665.2M1504.8 2676.9V2737.4M1508.7 2720.9V2756.6M1512.7 2723.6V2756.6M1516.6 2711.6V2747M1520.5 2704.4V2723M1524.4 2723V2754M1528.3 2714.4V2759.3M1532.3 2709.9V2745.6M1536.2 2732.2V2758.7M1544 2697.1V2759.8M1547.9 2694.8V2731.9M1551.9 2698.9V2725.4M1555.8 2704.4V2737.4M1563.6 2722.9V2742.9M1567.5 2726.4V2748.4M1571.5 2682.4V2727.9M1575.4 2703.7V2713.9M1579.3 2690.2V2703.7M1583.2 2665.9V2704.4M1587.1 2697.5V2724.3M1591.1 2712.6V2742.9M1595 2715.4V2740.1M1598.9 2706.4V2724.1M1606.7 2681.6V2702M1610.7 2681V2727.2M1618.5 2712.6V2726M1622.4 2715.9V2753.8M1626.4 2692.2V2743.9M1630.3 2661.9V2692.2M1634.2 2638.5V2687.8M1642 2663.2V2694.8M1646 2680V2709.2M1649.9 2709.2V2739.3M1653.8 2706.8V2740.1M1657.7 2704.4V2756.6M1661.6 2734.6V2773.1M1665.6 2715.4V2786.8M1669.5 2712.6V2783.1M1681.2 2673.8V2719.8M1685.2 2719.8V2740.1M1689.1 2701.1V2736M1693 2696.2V2737.4M1696.9 2685.2V2715.4M1700.8 2675.7V2711.8M1704.8 2665.9V2718.1M1708.7 2668.7V2704.4M1712.6 2660.4V2692M1716.5 2657.7V2698.9M1720.4 2682.4V2725.5M1724.4 2690.7V2726.4M1728.3 2686.2V2704.4M1740 2667.3V2708.5M1744 2648.7V2695.2M1747.9 2695.2V2731.6M1751.8 2716.5V2734.6M1755.7 2708.5V2722.2M1763.6 2686.8V2715.3M1767.5 2656.3V2686.8M334.1 2164.9V2558.7M337.9 2323.8V2566.9M330.5 2481.8V2560.1M390.9 1891.5V2476.3M394.5 1980.8V2566.9M454.7 1763.8V2429.6M450.5 1803.6V2404.8M510.4 1792.6V2167.6M506.9 2008.3V2422.7M515.1 2169V2459.8M566.8 1899.8V2448.8M570.6 2131.9V2550.4M627.3 1716.5V2278.9M623.1 2192.4V2362.3M631.4 2281.6V2389.7M687.1 1737.1V2366.4M683.3 1772V2363.6M742.9 1916.3V2485.9M746.2 2261V2484.5M803.1 1892.1V2419.9M799.8 2196.5V2422.7M858.8 2072.9V2605.4M855.5 2452.9V2605.4M919.3 2033V2602.6M915.7 2501V2580.7M975.1 2013V2501M978.7 2365V2579.3M971 2501V2575.2M1035.5 1936.9V2444.7M1032 2196.5V2446M1091.3 2000.1V2411.7M1094.6 2092.1V2550.4M1151.5 2120.9V2606.8M1211.9 2244.6V2623.2M1208.1 2360.9V2624.6M1267.7 2320.1V2668.6M1264.1 2505.1V2665.8M1323.5 2353.1V2624.6M1327 2421.3V2682.3M1383.4 2442V2701.6M1386.7 2657.7V2698.9M1443 2149.5V2561.5M1439.5 2249.7V2536.8M1499.3 2373.4V2657.7M1502.9 2521.7V2737.4M1555.7 2473.6V2704.4M1559.2 2542.3V2720.9M1615.5 2486V2731.9M1675.7 2494.2V2671.4M1671.9 2558.8V2737.4M1731.5 2469.5V2687.9M1735.1 2569.8V2693.4M1767.4 2656.3V2740"/>
<path class="d" stroke-width="3.6" d="M222.9 2116.5V2643M1771.4 2656V2740"/>
</g>
<g filter="url(#bt)">
<text class="s" transform="translate(209.6 1328.2) scale(0.4625 0.4986)" font-size="100">0</text>
<text class="s" transform="translate(377.7 1328.2) scale(0.4373 0.4986)" font-size="100">100</text>
<text class="s" transform="translate(568.2 1328.2) scale(0.4741 0.4986)" font-size="100">200</text>
<text class="s" transform="translate(761 1328.2) scale(0.4711 0.4986)" font-size="100">300</text>
<text class="s" transform="translate(962.6 1328.2) scale(0.4366 0.4986)" font-size="100">400</text>
<text class="s" transform="translate(1153.6 1328.2) scale(0.4365 0.4986)" font-size="100">500</text>
<text class="s" transform="translate(1345.2 1328.2) scale(0.4709 0.4986)" font-size="100">600</text>
<text class="s" transform="translate(1537.1 1328.2) scale(0.4690 0.4986)" font-size="100">700</text>
<text class="s" transform="translate(1737.5 1328.2) scale(0.4467 0.4986)" font-size="100">800</text>
<text class="s" transform="translate(138.7 72.5) scale(0.4491 0.5070)" font-size="100">-10</text>
<text class="s" transform="translate(138.7 192.7) scale(0.4491 0.5070)" font-size="100">-20</text>
<text class="s" transform="translate(138.7 312.2) scale(0.4491 0.5070)" font-size="100">-30</text>
<text class="s" transform="translate(138.7 435.8) scale(0.4491 0.5070)" font-size="100">-40</text>
<text class="s" transform="translate(138.7 556.1) scale(0.4491 0.5070)" font-size="100">-50</text>
<text class="s" transform="translate(138.7 676.4) scale(0.4491 0.5070)" font-size="100">-60</text>
<text class="s" transform="translate(138.7 800.1) scale(0.4491 0.5070)" font-size="100">-70</text>
<text class="s" transform="translate(138.7 920.4) scale(0.4491 0.5070)" font-size="100">-80</text>
<text class="s" transform="translate(138.7 1041) scale(0.4491 0.5070)" font-size="100">-90</text>
<text class="s" transform="translate(110.3 1164.9) scale(0.4792 0.5070)" font-size="100">-100</text>
<text class="s" transform="translate(110.3 1288.4) scale(0.4986 0.5070)" font-size="100">-110</text>
<text class="s" transform="translate(828 1387.2) scale(0.4450 0.4920)" font-size="100" letter-spacing="2.98">Frequency (Hz)</text>
<text class="s" transform="translate(74.3 819.9) rotate(-90) scale(0.4350 0.4791)" font-size="100" letter-spacing="3.04">Magnitude (dB)</text>
<text class="s" transform="translate(208.8 2979) scale(0.4750 0.5282)" font-size="100">0</text>
<text class="s" transform="translate(377.7 2979) scale(0.4437 0.5282)" font-size="100">100</text>
<text class="s" transform="translate(568.2 2979) scale(0.4741 0.5282)" font-size="100">200</text>
<text class="s" transform="translate(765.1 2979) scale(0.4629 0.5282)" font-size="100">300</text>
<text class="s" transform="translate(958 2979) scale(0.4652 0.5282)" font-size="100">400</text>
<text class="s" transform="translate(1153.5 2979) scale(0.4623 0.5282)" font-size="100">500</text>
<text class="s" transform="translate(1344.7 2979) scale(0.4741 0.5282)" font-size="100">600</text>
<text class="s" transform="translate(1541.2 2979) scale(0.4658 0.5282)" font-size="100">700</text>
<text class="s" transform="translate(1733.2 2979) scale(0.4732 0.5282)" font-size="100">800</text>
<text class="s" transform="translate(134.9 1719.7) scale(0.4689 0.5718)" font-size="100">-10</text>
<text class="s" transform="translate(134.9 1838) scale(0.4689 0.5718)" font-size="100">-20</text>
<text class="s" transform="translate(134.9 1960.2) scale(0.4689 0.5718)" font-size="100">-30</text>
<text class="s" transform="translate(134.9 2084) scale(0.4689 0.5718)" font-size="100">-40</text>
<text class="s" transform="translate(134.9 2204.2) scale(0.4689 0.5718)" font-size="100">-50</text>
<text class="s" transform="translate(134.9 2324.3) scale(0.4689 0.5718)" font-size="100">-60</text>
<text class="s" transform="translate(134.9 2446.4) scale(0.4689 0.5718)" font-size="100">-70</text>
<text class="s" transform="translate(134.9 2568.9) scale(0.4689 0.5718)" font-size="100">-80</text>
<text class="s" transform="translate(134.9 2688.5) scale(0.4689 0.5718)" font-size="100">-90</text>
<text class="s" transform="translate(106.8 2812.2) scale(0.4818 0.5718)" font-size="100">-100</text>
<text class="s" transform="translate(106.7 2933.1) scale(0.5014 0.5718)" font-size="100">-110</text>
<text class="s" transform="translate(819.7 3056.6) scale(0.4600 0.5668)" font-size="100" letter-spacing="4.40">Frequency (Hz)</text>
<text class="s" transform="translate(72.6 2504.2) rotate(-90) scale(0.4850 0.5679)" font-size="100" letter-spacing="7.66">Magnitude (dB)</text>
</g>
<text class="c" transform="translate(918.5 1540.7) scale(0.7294 0.7604)" font-size="100">(</text>
<text class="c cb" transform="translate(943.7 1540.7) scale(0.7319 0.7833)" font-size="100">a</text>
<text class="c" transform="translate(981.5 1540.7) scale(0.7154 0.7604)" font-size="100">)</text>
<text class="c" transform="translate(914.4 3192.6) scale(0.7255 0.7615)" font-size="100">(</text>
<text class="c cb" transform="translate(938.9 3193.2) scale(0.8297 0.7972)" font-size="100">b</text>
<text class="c" transform="translate(985.6 3192.6) scale(0.7154 0.7615)" font-size="100">)</text>
</svg></body></html>
